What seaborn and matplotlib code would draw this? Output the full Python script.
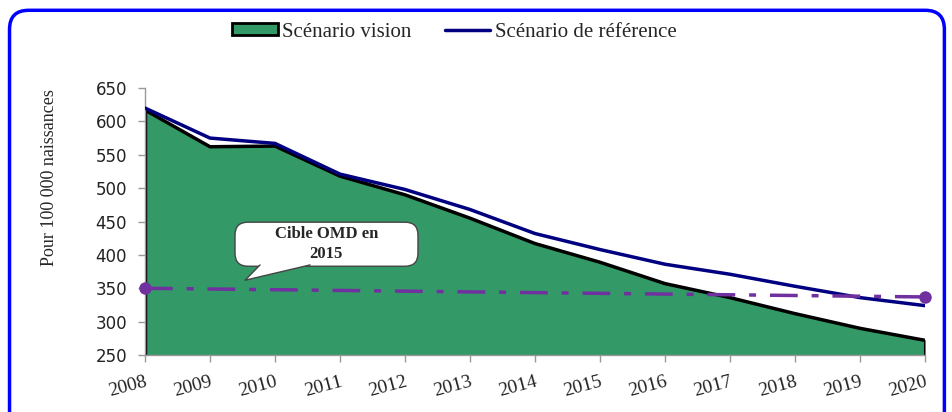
import numpy as np
import pandas as pd
import matplotlib.pyplot as plt
import seaborn as sns
from matplotlib.patches import FancyBboxPatch, Patch, Polygon
from matplotlib.lines import Line2D

years = [2008, 2009, 2010, 2011, 2012, 2013, 2014, 2015, 2016, 2017, 2018, 2019, 2020]
vision = [617, 562, 563, 518, 490, 455, 417, 389, 357, 336, 312, 290, 272]
reference = [620, 575, 567, 521, 498, 468, 432, 408, 386, 371, 353, 336, 324]
omd_years = [2008, 2020]
omd_values = [350, 337]
y_ticks = [250, 300, 350, 400, 450, 500, 550, 600, 650]

df = pd.DataFrame({'annee': years, 'vision': vision, 'reference': reference})
omd = pd.DataFrame({'annee': omd_years, 'cible': omd_values})

sns.set_style('white')
plt.rcParams['font.family'] = ['Liberation Serif', 'DejaVu Serif']

fig = plt.figure(figsize=(9.52, 4.12), dpi=100)
ax = fig.add_axes([0.1523, 0.1383, 0.8193, 0.6481])

# cadre bleu arrondi (bas coupé comme sur l'original)
cadre = FancyBboxPatch((0.01, -0.1), 0.982, 1.075, boxstyle='round,pad=0,rounding_size=0.02',
                       transform=fig.transFigure, fill=False, ec='#0000FF', lw=2.5,
                       mutation_aspect=952/412)
fig.patches.append(cadre)

ax.fill_between(df['annee'], df['vision'], 250, color='#339966', zorder=1)
sns.lineplot(x='annee', y='vision', data=df, color='black', lw=2.5, ax=ax, zorder=2)
ax.plot([2008, 2008], [250, vision[0]], color='black', lw=2.5, zorder=2)
ax.plot([2020, 2020], [250, vision[-1]], color='black', lw=1.5, zorder=2)
sns.lineplot(x='annee', y='reference', data=df, color='#000080', lw=2.5, ax=ax, zorder=3)
sns.lineplot(x='annee', y='cible', data=omd, color='#7030A0', lw=2.5, ax=ax, zorder=4,
             linestyle=(0, (8, 4, 2, 4)), marker='o', markersize=9, markeredgewidth=0,
             clip_on=False)

ax.set_xlim(2008, 2020)
ax.set_ylim(250, 650)
ax.set_xticks(years)
ax.set_xticklabels([str(y) for y in years], rotation=15, fontsize=14, color='#222222',
                   ha='right', rotation_mode='anchor')
ax.set_yticks(y_ticks)
ax.set_yticklabels([str(v) for v in y_ticks], fontsize=12, color='#222222', family='DejaVu Sans')
ax.tick_params(axis='both', direction='out', length=5, width=1, color='#999999', left=True, bottom=True)
ax.tick_params(axis='x', pad=8)
ax.tick_params(axis='y', pad=8)
for s in ['top', 'right']:
    ax.spines[s].set_visible(False)
for s in ['left', 'bottom']:
    ax.spines[s].set_color('#999999')
    ax.spines[s].set_linewidth(1)
ax.set_xlabel('')
ax.set_ylabel('Pour 100 000 naissances', fontsize=13)
ax.yaxis.set_label_coords(-0.112, 0.663)

# bulle "Cible OMD en 2015"
bulle = FancyBboxPatch((2009.385, 383), 2.815, 66, boxstyle='round,pad=0,rounding_size=0.2',
                       mutation_aspect=97, fc='white', ec='#444444', lw=1, zorder=5)
ax.add_patch(bulle)
queue = [(2009.77, 385), (2009.54, 362), (2010.54, 385)]
ax.add_patch(Polygon(queue, closed=True, fc='white', ec='none', zorder=6))
ax.plot([queue[0][0], queue[1][0], queue[2][0]], [queue[0][1], queue[1][1], queue[2][1]],
        color='#444444', lw=1, zorder=7)
ax.text(2010.79, 416, 'Cible OMD en\n2015', ha='center', va='center', fontsize=12,
        fontweight='bold', zorder=8, linespacing=1.3)

handles = [Patch(fc='#339966', ec='black', lw=2), Line2D([0], [0], color='#000080', lw=2.5)]
fig.legend(handles, ['Scénario vision', 'Scénario de référence'], loc='center',
           bbox_to_anchor=(0.477, 0.922), ncol=2, frameon=False, fontsize=15,
           handlelength=2.2, handleheight=0.5, columnspacing=1.6, handletextpad=0.2)

fig.savefig('out.png', dpi=100)
